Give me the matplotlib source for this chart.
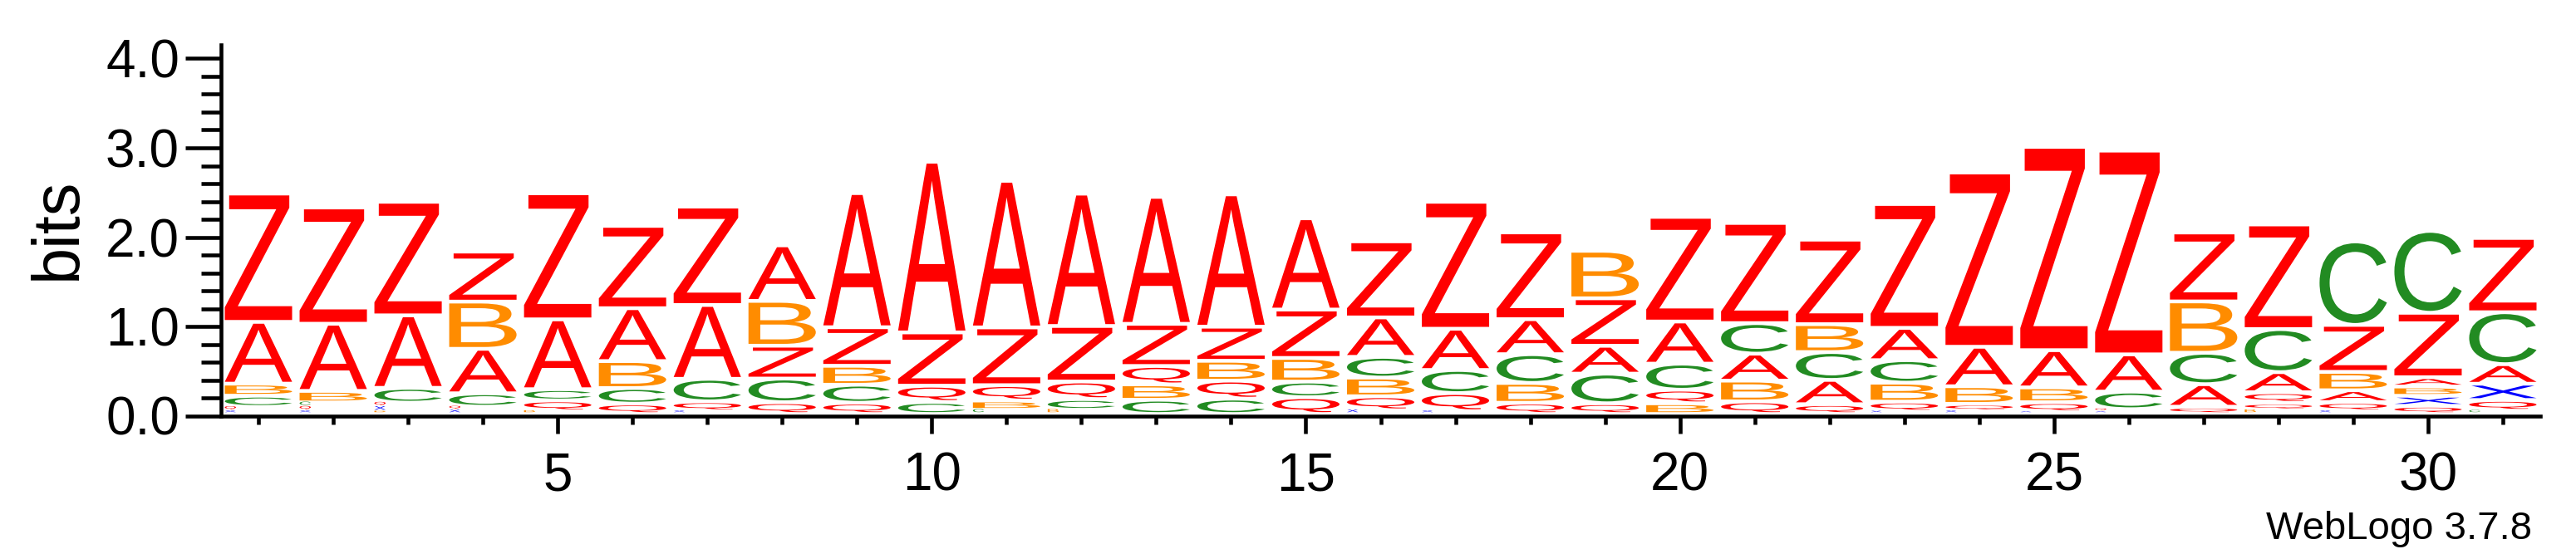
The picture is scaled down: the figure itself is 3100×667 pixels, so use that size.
import matplotlib
matplotlib.use('Agg')
import matplotlib.pyplot as plt
from matplotlib.textpath import TextPath
from matplotlib.patches import PathPatch
from matplotlib.font_manager import FontProperties
from matplotlib.ticker import MultipleLocator, FixedLocator
import matplotlib.transforms as mtransforms

# sequence logo data: letters per position from bottom to top, glyph heights in bits
positions = list(range(1, 32))
stack_letters = [
    "XQCBAZ", "XQCBAZ", "BXQCAZ", "XQCABZ", "BQCAZ", "QCBAZ", "XQCAZ", "QCZBA",
    "QCBZA", "CQZA", "CBQZA", "BCQZA", "CBQZA", "CQBZA", "QCBZA", "XQBCAZ",
    "XQCAZ", "QBCAZ", "QCAZB", "BQCAZ", "QBACZ", "QACBZ", "XQBCAZ", "XQBAZ",
    "XQBAZ", "XQCAZ", "QACBZ", "BQQACZ", "XQABZC", "QXBAZC", "CQXACZ",
]
stack_heights = [
    [0.02, 0.035, 0.084, 0.093, 0.65, 1.395],
    [0.02, 0.037, 0.037, 0.087, 0.71, 1.26],
    [0.015, 0.039, 0.037, 0.124, 0.77, 1.23],
    [0.028, 0.03, 0.108, 0.456, 0.487, 0.518],
    [0.02, 0.078, 0.084, 0.74, 1.37],
    [0.074, 0.133, 0.26, 0.55, 0.88],
    [0.02, 0.068, 0.21, 0.785, 1.06],
    [0.09, 0.223, 0.326, 0.46, 0.58],
    [0.084, 0.16, 0.17, 0.39, 1.46],
    [0.093, 0.14, 0.555, 1.87],
    [0.035, 0.062, 0.13, 0.605, 1.60],
    [0.035, 0.078, 0.155, 0.58, 1.44],
    [0.118, 0.13, 0.164, 0.43, 1.38],
    [0.13, 0.16, 0.18, 0.34, 1.44],
    [0.146, 0.133, 0.223, 0.50, 0.98],
    [0.03, 0.115, 0.167, 0.19, 0.40, 0.81],
    [0.02, 0.16, 0.217, 0.42, 1.38],
    [0.084, 0.18, 0.28, 0.35, 0.93],
    [0.078, 0.29, 0.27, 0.49, 0.49],
    [0.078, 0.11, 0.25, 0.43, 1.13],
    [0.10, 0.19, 0.26, 0.30, 1.08],
    [0.068, 0.23, 0.27, 0.27, 0.905],
    [0.015, 0.07, 0.17, 0.21, 0.32, 1.345],
    [0.02, 0.04, 0.155, 0.40, 1.91],
    [0.01, 0.068, 0.124, 0.375, 2.235],
    [0.01, 0.02, 0.155, 0.375, 2.24],
    [0.04, 0.21, 0.31, 0.533, 0.73],
    [0.03, 0.04, 0.078, 0.183, 0.44, 1.13],
    [0.02, 0.06, 0.09, 0.164, 0.484, 0.893],
    [0.05, 0.07, 0.062, 0.062, 0.68, 0.875],
    [0.025, 0.078, 0.14, 0.177, 0.54, 0.79],
]
letter_colors = {'A': '#ff0000', 'Z': '#ff0000', 'Q': '#ff0000',
                 'B': '#ff8c00', 'C': '#228b22', 'X': '#0000ff'}

fp = FontProperties(family='Liberation Sans')

fig = plt.figure(figsize=(31, 6.67), dpi=100)
ax = fig.add_axes([266 / 3100, 166.5 / 667, (3057 - 266) / 3100, 4.15 * 107.5 / 667])


def draw_letter(ch, x0, y0, w, h, color):
    tp = TextPath((0, 0), ch, size=1, prop=fp)
    bb = tp.get_extents()
    t = mtransforms.Affine2D().translate(-bb.x0, -bb.y0) \
        .scale(w / bb.width, h / bb.height).translate(x0, y0)
    ax.add_patch(PathPatch(t.transform_path(tp), facecolor=color, edgecolor='none', lw=0))


for pos, lets, hts in zip(positions, stack_letters, stack_heights):
    y = 0.04
    for ch, h in zip(lets, hts):
        if h < 0.04:
            draw_letter(ch, pos - 0.45, y, 0.15, h, letter_colors[ch])
            y += h + 0.012
        else:
            draw_letter(ch, pos - 0.45, y, 0.9, h, letter_colors[ch])
            y += h + 0.042

ax.set_xlim(0.5, 31.5)
ax.set_ylim(0, 4.15)
for s in ['top', 'right']:
    ax.spines[s].set_visible(False)
for s in ['left', 'bottom']:
    ax.spines[s].set_linewidth(3.3)

ax.xaxis.set_major_locator(FixedLocator([5, 10, 15, 20, 25, 30]))
ax.xaxis.set_minor_locator(FixedLocator(positions))
ax.yaxis.set_major_locator(MultipleLocator(1.0))
ax.yaxis.set_minor_locator(MultipleLocator(0.2))
ax.set_yticks([0, 1, 2, 3, 4])
ax.set_yticklabels(['0.0', '1.0', '2.0', '3.0', '4.0'])

ax.tick_params(axis='x', which='major', length=15, width=3.3, pad=16, labelsize=46)
ax.tick_params(axis='x', which='minor', length=7, width=3.3)
ax.tick_params(axis='y', which='major', length=31, width=3.3, pad=5, labelsize=46)
ax.tick_params(axis='y', which='minor', length=17, width=3.3)
for lab in ax.get_xticklabels() + ax.get_yticklabels():
    lab.set_fontfamily('Liberation Sans')

fig.text(70 / 3100, 1 - 275 / 667, 'bits', rotation=90, ha='center', va='center',
         fontsize=57, family='Liberation Sans')
fig.text(3047 / 3100, 18 / 667, 'WebLogo 3.7.8', ha='right', va='baseline',
         fontsize=34, family='Liberation Sans')

fig.savefig('out.png', dpi=100)
